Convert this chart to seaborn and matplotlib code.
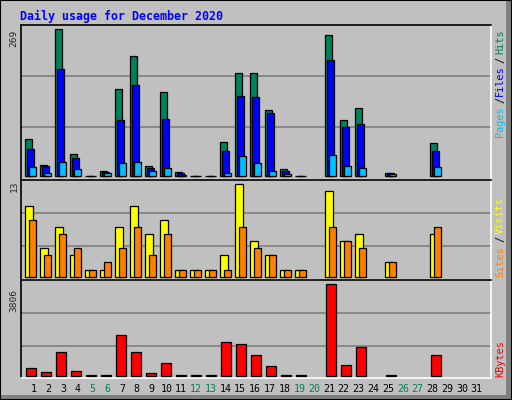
import numpy as np
import pandas as pd
import matplotlib
matplotlib.use("Agg")
import matplotlib.pyplot as plt
import seaborn as sns
from matplotlib.patches import Rectangle

sns.set_style("white")
plt.rcParams['font.family'] = ['DejaVu Sans Mono']

nan = np.nan
days = list(range(1, 32))
hits   = [68,20,269,40,0,9,159,220,18,154,7,0,0,62,188,188,121,12,0,nan,258,102,124,nan,5,nan,nan,60,nan,nan,nan]
files  = [49,18,196,33,0,7,102,166,14,104,5,0,0,46,146,144,115,9,0,nan,212,89,95,nan,5,nan,nan,46,nan,nan,nan]
pages  = [16,5,25,12,0,5,23,25,9,14,2,0,0,5,36,23,9,3,0,nan,38,18,14,nan,3,nan,nan,16,nan,nan,nan]
visits = [10,4,7,3,1,1,7,10,6,8,1,1,1,3,13,5,3,1,1,nan,12,5,6,nan,2,nan,nan,6,nan,nan,nan]
sites  = [8,3,6,4,1,2,4,7,3,6,1,1,1,1,7,4,3,1,1,nan,7,5,4,nan,2,nan,nan,7,nan,nan,nan]
kbytes = [306,139,972,181,10,10,1681,972,97,514,10,10,10,1389,1306,847,389,10,10,nan,3806,431,1181,nan,10,nan,nan,847,nan,nan,nan]
weekend = [5,6,12,13,19,20,26,27]
title = "Daily usage for December 2020"

W, H = 512, 400
fig = plt.figure(figsize=(W/100, H/100), dpi=100, facecolor="#C0C0C0")
BG = "#C0C0C0"

def mkax(top, bot):
    ax = fig.add_axes([21/W, 1-bot/H, 470/W, (bot-top)/H])
    ax.set_facecolor(BG)
    return ax

ax1 = mkax(25, 180); ax2 = mkax(180, 280); ax3 = mkax(280, 378)
d = np.array(days, dtype=float)

def bars(ax, vals, off, w, col):
    df = pd.DataFrame({"x": d + off/15, "y": vals}).dropna()
    sns.barplot(data=df, x="x", y="y", native_scale=True, width=w/15, color=col,
                edgecolor="black", linewidth=0.9, saturation=1, ax=ax, zorder=3)

bars(ax1, hits, 7.8, 7, "#00805C")
bars(ax1, files, 9.8, 7, "#0000FF")
bars(ax1, pages, 11.8, 7, "#00C0FF")
bars(ax2, visits, 8.3, 8, "#FFFF00")
bars(ax2, sites, 11.8, 7, "#FF8000")
bars(ax3, kbytes, 10.3, 10, "#FF0000")

for ax, lim, grid in [(ax1, (-7.3, 276.3), [89.6, 183]),
                      (ax2, (-0.47, 13.6), [4.28, 8.9]),
                      (ax3, (-96, 3985), [1248, 2597])]:
    ax.set_xlim(1, 1+470/15)
    ax.set_ylim(*lim)
    for g in grid:
        ax.axhline(g, color="#808080", lw=1.2, zorder=1)
    ax.set_xticks([]); ax.set_yticks([])
    ax.set_xlabel(""); ax.set_ylabel("")
    for s in ["top", "left"]:
        ax.spines[s].set_color("black"); ax.spines[s].set_linewidth(1.2)
    for s in ["bottom", "right"]:
        ax.spines[s].set_color("white"); ax.spines[s].set_linewidth(1.2)

def ft(x, y, s, **kw):
    fig.text(x/W, 1-y/H, s, **kw)

ft(20, 16, title, color="#0000FF", fontsize=8.4, fontweight="bold", va="center")
ft(14, 38, "269", rotation=90, fontsize=6.8, ha="center", va="center")
ft(14, 186, "13", rotation=90, fontsize=6.8, ha="center", va="center")
ft(14, 300, "3806", rotation=90, fontsize=6.8, ha="center", va="center")

for day in days:
    col = "#00805C" if day in weekend else "black"
    ft(33.3 + 14.78*(day-1), 389, str(day), color=col, fontsize=7.2, ha="center", va="center")

for s, y, c in [("Pages", 122, "#00C0FF"), ("/", 100, "black"), ("Files", 81, "#0000FF"),
                ("/", 60, "black"), ("Hits", 42, "#00805C"),
                ("Sites", 262, "#FF8000"), ("/", 239, "black"), ("Visits", 216, "#FFFF00"),
                ("KBytes", 359, "#FF0000")]:
    ft(500, y, s, rotation=90, color=c, fontsize=7.4, ha="center", va="center")

fig.patches.append(Rectangle((506/W, 0), 6/W, 1, transform=fig.transFigure,
                             facecolor="#808080", edgecolor="none"))
fig.patches.append(Rectangle((0, 0), 1, 5/H, transform=fig.transFigure,
                             facecolor="#808080", edgecolor="none"))
fig.patches.append(Rectangle((0, 0), 1, 1, transform=fig.transFigure, fill=False,
                             edgecolor="black", lw=1.5))
fig.savefig("out.png", dpi=100, facecolor=fig.get_facecolor())
